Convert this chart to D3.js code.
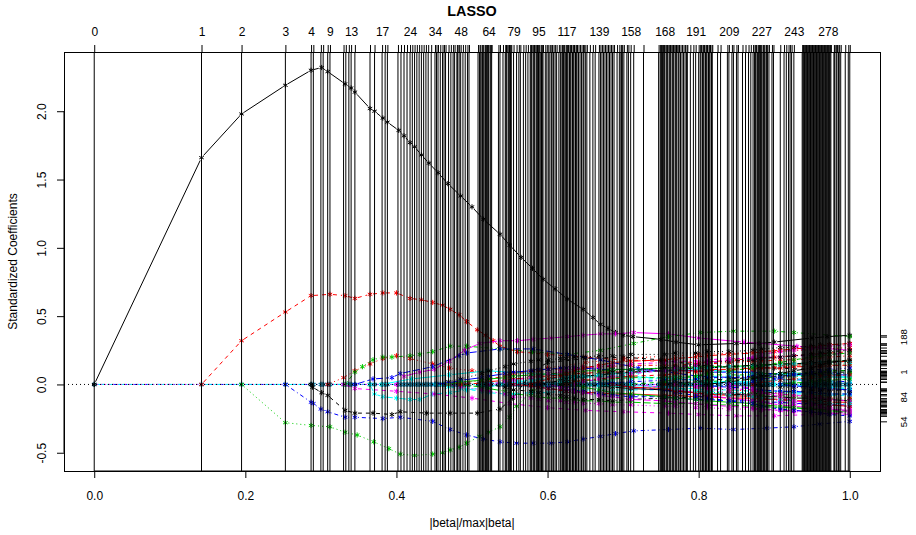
<!DOCTYPE html>
<html>
<head>
<meta charset="utf-8">
<title>LASSO</title>
<script src="https://d3js.org/d3.v7.min.js"></script>
<style>
  body { margin: 0; background: #fff; }
  svg { display: block; font-family: "Liberation Sans", Arial, Helvetica, sans-serif; }
</style>
</head>
<body>
<svg id="chart" width="916" height="535"></svg>
<script>
// |beta|/max|beta| at every LARS step (vertical lines + top axis ticks)
const steps = [
  0, 0.142, 0.195, 0.253, 0.287, 0.290, 0.300, 0.303, 0.309, 0.312,
  0.330, 0.333, 0.337, 0.340, 0.345, 0.365, 0.371, 0.381, 0.385, 0.388,
  0.402, 0.406, 0.410, 0.414, 0.418, 0.421, 0.424, 0.427, 0.430, 0.433,
  0.436, 0.439, 0.442, 0.446, 0.451, 0.453, 0.455, 0.458, 0.461, 0.463,
  0.465, 0.469, 0.472, 0.475, 0.477, 0.480, 0.481, 0.483, 0.485, 0.488,
  0.491, 0.494, 0.496, 0.508, 0.510, 0.511, 0.513, 0.514, 0.515, 0.517,
  0.518, 0.519, 0.520, 0.521, 0.522, 0.524, 0.525, 0.526, 0.535, 0.537,
  0.541, 0.544, 0.545, 0.546, 0.548, 0.549, 0.550, 0.551, 0.552, 0.555,
  0.559, 0.562, 0.564, 0.568, 0.571, 0.574, 0.577, 0.578, 0.579, 0.581,
  0.582, 0.583, 0.585, 0.586, 0.587, 0.588, 0.589, 0.591, 0.592, 0.593,
  0.594, 0.597, 0.599, 0.601, 0.603, 0.605, 0.606, 0.608, 0.610, 0.612,
  0.615, 0.617, 0.619, 0.620, 0.621, 0.622, 0.624, 0.625, 0.626, 0.627,
  0.629, 0.630, 0.631, 0.633, 0.634, 0.635, 0.637, 0.638, 0.639, 0.641,
  0.643, 0.645, 0.647, 0.648, 0.650, 0.652, 0.656, 0.660, 0.663, 0.668,
  0.670, 0.672, 0.674, 0.676, 0.678, 0.680, 0.682, 0.684, 0.686, 0.688,
  0.692, 0.695, 0.697, 0.698, 0.699, 0.701, 0.705, 0.707, 0.710, 0.714,
  0.727, 0.747, 0.749, 0.750, 0.751, 0.752, 0.753, 0.754, 0.755, 0.757,
  0.758, 0.759, 0.761, 0.762, 0.763, 0.765, 0.766, 0.767, 0.769, 0.770,
  0.771, 0.773, 0.774, 0.776, 0.778, 0.780, 0.782, 0.784, 0.785, 0.789,
  0.793, 0.796, 0.800, 0.802, 0.803, 0.805, 0.806, 0.807, 0.809, 0.810,
  0.811, 0.813, 0.814, 0.815, 0.817, 0.818, 0.825, 0.829, 0.838, 0.840,
  0.844, 0.846, 0.850, 0.852, 0.858, 0.862, 0.866, 0.869, 0.872, 0.874,
  0.875, 0.876, 0.878, 0.879, 0.880, 0.881, 0.882, 0.883, 0.885, 0.886,
  0.887, 0.889, 0.890, 0.891, 0.893, 0.897, 0.899, 0.908, 0.913, 0.916,
  0.919, 0.921, 0.923, 0.926, 0.937, 0.938, 0.939, 0.940, 0.941, 0.942,
  0.943, 0.944, 0.945, 0.946, 0.947, 0.948, 0.949, 0.950, 0.951, 0.952,
  0.953, 0.954, 0.955, 0.956, 0.957, 0.958, 0.959, 0.960, 0.961, 0.962,
  0.963, 0.964, 0.965, 0.966, 0.967, 0.968, 0.969, 0.970, 0.971, 0.972,
  0.973, 0.974, 0.975, 0.979, 0.980, 0.982, 0.983, 0.985, 0.986, 0.988,
  0.994, 0.998, 1.000
];

// steps whose number is printed on the top axis
const topLabelSteps = [0, 1, 2, 3, 4, 9, 13, 17, 24, 34, 48, 64, 79, 95, 117, 139, 158, 168, 191, 209, 227, 243, 278];

const xTicks = [0, 0.2, 0.4, 0.6, 0.8, 1.0];
const yTicks = [-0.5, 0, 0.5, 1, 1.5, 2];

// the clearly visible coefficient paths, [|beta|/max|beta|, coefficient]
const mainPaths = [
  [[0,0],[0.142,1.66],[0.195,1.98],[0.253,2.19],[0.287,2.30],[0.301,2.32],[0.309,2.29],[0.332,2.20],[0.340,2.17],[0.345,2.14],[0.365,2.02],[0.371,2.00],[0.382,1.95],[0.388,1.92],[0.403,1.86],[0.410,1.82],[0.418,1.77],[0.424,1.74],[0.433,1.68],[0.443,1.62],[0.455,1.55],[0.468,1.47],[0.485,1.38],[0.50,1.30],[0.515,1.21],[0.537,1.10],[0.55,1.02],[0.565,0.93],[0.58,0.85],[0.594,0.77],[0.61,0.70],[0.626,0.625],[0.647,0.55],[0.66,0.49],[0.67,0.44],[0.68,0.41],[0.69,0.38],[0.70,0.36],[0.713,0.35],[0.75,0.33],[0.77,0.31],[0.80,0.29],[0.85,0.30],[0.88,0.30],[0.90,0.31],[0.95,0.34],[0.97,0.35],[1.0,0.36]],
  [[0.142,0],[0.195,0.32],[0.253,0.53],[0.287,0.65],[0.312,0.66],[0.332,0.65],[0.345,0.63],[0.365,0.66],[0.382,0.67],[0.40,0.67],[0.418,0.63],[0.433,0.62],[0.448,0.60],[0.461,0.58],[0.471,0.55],[0.483,0.51],[0.493,0.46],[0.507,0.40],[0.518,0.36],[0.528,0.32],[0.537,0.28],[0.56,0.24],[0.60,0.22],[0.65,0.20],[0.70,0.18],[0.75,0.17],[0.80,0.16],[0.85,0.18],[0.90,0.20],[0.95,0.22],[1.0,0.24]],
  [[0.195,0],[0.253,-0.28],[0.287,-0.30],[0.312,-0.31],[0.332,-0.35],[0.348,-0.37],[0.37,-0.42],[0.39,-0.47],[0.405,-0.51],[0.424,-0.52],[0.448,-0.51],[0.461,-0.50],[0.471,-0.48],[0.483,-0.46],[0.493,-0.43],[0.51,-0.38],[0.522,-0.35],[0.537,-0.31],[0.55,-0.24],[0.559,-0.16],[0.58,-0.05],[0.62,0.05],[0.68,0.10],[0.75,0.12],[0.85,0.13],[1.0,0.15]],
  [[0.253,0],[0.287,-0.13],[0.290,-0.14],[0.300,-0.18],[0.309,-0.20],[0.332,-0.24],[0.345,-0.24],[0.382,-0.25],[0.405,-0.24],[0.448,-0.27],[0.471,-0.33],[0.493,-0.37],[0.515,-0.40],[0.537,-0.42],[0.559,-0.43],[0.581,-0.43],[0.605,-0.43],[0.626,-0.42],[0.647,-0.40],[0.670,-0.38],[0.69,-0.36],[0.714,-0.34],[0.76,-0.33],[0.802,-0.32],[0.846,-0.33],[0.89,-0.32],[0.926,-0.31],[0.96,-0.29],[1.0,-0.27]],
  [[0.365,0],[0.371,-0.07],[0.382,-0.09],[0.40,-0.10],[0.418,-0.11],[0.431,-0.11],[0.448,-0.07],[0.471,-0.06],[0.493,-0.04],[0.52,-0.02],[0.56,0.02],[0.62,0.05],[0.70,0.06],[0.80,0.03],[0.90,0.0],[1.0,-0.03]],
  [[0.40,0],[0.41,0.06],[0.431,0.09],[0.45,0.11],[0.47,0.17],[0.49,0.25],[0.51,0.30],[0.537,0.32],[0.56,0.32],[0.581,0.33],[0.605,0.34],[0.626,0.35],[0.647,0.36],[0.67,0.37],[0.69,0.37],[0.714,0.38],[0.76,0.37],[0.80,0.34],[0.86,0.31],[0.93,0.28],[1.0,0.25]],
  [[0.287,0],[0.289,-0.02],[0.301,-0.06],[0.309,-0.08],[0.332,-0.19],[0.345,-0.21],[0.369,-0.21],[0.394,-0.22],[0.405,-0.20],[0.44,-0.21],[0.471,-0.21],[0.507,-0.21],[0.537,-0.18],[0.554,-0.10],[0.581,0.10],[0.60,0.16],[0.65,0.19],[0.70,0.20],[0.75,0.18],[0.80,0.14],[0.90,0.12],[1.0,0.10]],
  [[0.309,0],[0.33,0.05],[0.345,0.10],[0.365,0.15],[0.382,0.19],[0.40,0.21],[0.418,0.19],[0.448,0.15],[0.47,0.12],[0.50,0.10],[0.55,0.08],[0.60,0.12],[0.65,0.16],[0.70,0.19],[0.80,0.22],[0.90,0.24],[1.0,0.27]],
  [[0.332,0],[0.345,0.09],[0.355,0.13],[0.369,0.18],[0.382,0.20],[0.394,0.20],[0.418,0.21],[0.431,0.22],[0.448,0.24],[0.471,0.28],[0.493,0.28],[0.537,0.26],[0.58,0.24],[0.626,0.22],[0.67,0.25],[0.714,0.30],[0.76,0.35],[0.802,0.38],[0.846,0.39],[0.90,0.39],[0.926,0.38],[1.0,0.35]],
  [[0.345,0],[0.369,0.04],[0.394,0.05],[0.405,0.08],[0.448,0.13],[0.483,0.21],[0.493,0.23],[0.537,0.26],[0.581,0.26],[0.626,0.22],[0.67,0.18],[0.72,0.12],[0.80,0.06],[0.90,0.04],[1.0,0.02]],
  [[0.38,0],[0.42,0.04],[0.47,0.07],[0.52,0.10],[0.58,0.08],[0.65,0.06],[0.72,0.09],[0.80,0.11],[0.88,0.08],[1.0,0.05]],
  [[0.33,0],[0.345,-0.03],[0.40,-0.05],[0.45,-0.07],[0.50,-0.10],[0.55,-0.14],[0.60,-0.17],[0.65,-0.19],[0.70,-0.20],[0.76,-0.21],[0.80,-0.22],[0.85,-0.23],[0.90,-0.23],[0.95,-0.22],[1.0,-0.20]]
];

// later entering variables, read at these steps: [first grid column, values from there on]
const gridSteps = [34, 41, 48, 56, 64, 71, 79, 87, 95, 103, 111, 117, 125, 132, 139, 148, 158, 168, 178, 191, 200, 209, 218, 227, 237, 243, 256, 268, 280, 292];
const minorPaths = [
  [0, [0, 0.02, 0.04, 0.08, 0.10, 0.13, 0.15, 0.17, 0.18, 0.18, 0.19, 0.19, 0.20, 0.20, 0.21, 0.21, 0.22, 0.22, 0.23, 0.23, 0.24, 0.24, 0.25, 0.26, 0.27, 0.27, 0.28, 0.29, 0.29, 0.30]],
  [1, [0, 0.01, 0.03, 0.04, 0.06, 0.08, 0.09, 0.10, 0.11, 0.11, 0.12, 0.12, 0.13, 0.13, 0.13, 0.14, 0.14, 0.14, 0.15, 0.15, 0.16, 0.17, 0.17, 0.18, 0.18, 0.19, 0.20, 0.20, 0.21]],
  [2, [0, -0.02, -0.03, -0.05, -0.07, -0.08, -0.09, -0.10, -0.10, -0.11, -0.11, -0.12, -0.12, -0.13, -0.13, -0.14, -0.14, -0.14, -0.15, -0.15, -0.16, -0.16, -0.17, -0.17, -0.18, -0.18, -0.19, -0.19]],
  [0, [0, 0.01, 0.03, 0.05, 0.06, 0.08, 0.09, 0.10, 0.11, 0.11, 0.12, 0.12, 0.12, 0.12, 0.11, 0.11, 0.11, 0.10, 0.10, 0.10, 0.09, 0.09, 0.09, 0.08, 0.08, 0.08, 0.08, 0.07, 0.07, 0.07]],
  [0, [0, -0.02, -0.03, -0.05, -0.06, -0.07, -0.07, -0.06, -0.06, -0.06, -0.05, -0.05, -0.05, -0.04, -0.04, -0.04, -0.04, -0.04, -0.05, -0.05, -0.05, -0.06, -0.06, -0.06, -0.07, -0.07, -0.07, -0.08, -0.08, -0.08]],
  [1, [0, -0.02, -0.04, -0.05, -0.07, -0.09, -0.10, -0.11, -0.12, -0.12, -0.13, -0.13, -0.14, -0.14, -0.15, -0.15, -0.16, -0.16, -0.17, -0.17, -0.18, -0.18, -0.19, -0.19, -0.20, -0.20, -0.21, -0.21, -0.21]],
  [4, [0, -0.02, -0.04, -0.05, -0.06, -0.07, -0.08, -0.09, -0.10, -0.11, -0.11, -0.12, -0.11, -0.10, -0.10, -0.09, -0.08, -0.07, -0.07, -0.06, -0.06, -0.05, -0.05, -0.04, -0.04, -0.04]],
  [2, [0, 0.01, 0.02, 0.03, 0.04, 0.05, 0.06, 0.06, 0.07, 0.07, 0.08, 0.08, 0.09, 0.09, 0.09, 0.10, 0.10, 0.10, 0.11, 0.11, 0.12, 0.12, 0.12, 0.13, 0.13, 0.13, 0.14, 0.14]],
  [1, [0, 0.02, 0.03, 0.04, 0.05, 0.06, 0.07, 0.07, 0.08, 0.08, 0.09, 0.09, 0.10, 0.10, 0.11, 0.11, 0.12, 0.12, 0.13, 0.13, 0.13, 0.14, 0.14, 0.15, 0.15, 0.16, 0.16, 0.17, 0.17]],
  [6, [0, -0.01, -0.02, -0.03, -0.04, -0.05, -0.05, -0.06, -0.07, -0.08, -0.09, -0.09, -0.10, -0.11, -0.11, -0.12, -0.12, -0.13, -0.13, -0.14, -0.14, -0.14, -0.15, -0.15]],
  [3, [0, 0.01, 0.02, 0.03, 0.03, 0.04, 0.04, 0.05, 0.05, 0.05, 0.06, 0.06, 0.06, 0.06, 0.05, 0.05, 0.05, 0.04, 0.04, 0.04, 0.03, 0.03, 0.03, 0.02, 0.02, 0.02, 0.02]],
  [4, [0, 0.02, 0.03, 0.05, 0.06, 0.08, 0.09, 0.10, 0.11, 0.12, 0.13, 0.14, 0.15, 0.16, 0.17, 0.17, 0.18, 0.19, 0.19, 0.20, 0.20, 0.21, 0.21, 0.22, 0.22, 0.23]],
  [8, [0, 0.01, 0.03, 0.04, 0.05, 0.06, 0.07, 0.08, 0.09, 0.10, 0.11, 0.12, 0.12, 0.13, 0.14, 0.14, 0.15, 0.15, 0.16, 0.16, 0.17, 0.17]],
  [6, [0, -0.01, -0.02, -0.03, -0.04, -0.05, -0.05, -0.06, -0.06, -0.07, -0.07, -0.08, -0.08, -0.09, -0.09, -0.10, -0.10, -0.11, -0.11, -0.12, -0.12, -0.12, -0.13, -0.13]],
  [10, [0, 0.01, 0.02, 0.03, 0.03, 0.04, 0.05, 0.05, 0.06, 0.06, 0.07, 0.07, 0.07, 0.08, 0.08, 0.08, 0.09, 0.09, 0.10, 0.10]],
  [8, [0, -0.01, -0.02, -0.03, -0.04, -0.05, -0.06, -0.07, -0.08, -0.09, -0.10, -0.10, -0.11, -0.12, -0.12, -0.13, -0.13, -0.14, -0.14, -0.15, -0.15, -0.16]],
  [11, [0, 0.01, 0.02, 0.03, 0.03, 0.04, 0.04, 0.05, 0.05, 0.06, 0.06, 0.07, 0.07, 0.07, 0.08, 0.08, 0.08, 0.09, 0.09]],
  [9, [0, -0.02, -0.03, -0.05, -0.06, -0.08, -0.09, -0.11, -0.12, -0.13, -0.14, -0.15, -0.16, -0.17, -0.18, -0.19, -0.19, -0.20, -0.21, -0.21, -0.22]],
  [13, [0, -0.01, -0.02, -0.03, -0.04, -0.05, -0.06, -0.07, -0.07, -0.08, -0.09, -0.09, -0.10, -0.10, -0.11, -0.11, -0.12]],
  [11, [0, 0.02, 0.03, 0.04, 0.05, 0.06, 0.07, 0.08, 0.09, 0.10, 0.11, 0.11, 0.12, 0.13, 0.14, 0.15, 0.15, 0.16, 0.17]],
  [14, [0, -0.01, -0.02, -0.03, -0.04, -0.05, -0.06, -0.06, -0.07, -0.08, -0.08, -0.09, -0.09, -0.10, -0.10, -0.11]],
  [14, [0, 0.01, 0.02, 0.03, 0.03, 0.04, 0.05, 0.05, 0.06, 0.06, 0.06, 0.07, 0.07, 0.07, 0.08, 0.08]],
  [13, [0, -0.01, -0.01, -0.02, -0.02, -0.03, -0.03, -0.04, -0.04, -0.05, -0.05, -0.05, -0.06, -0.06, -0.06, -0.07, -0.07]],
  [16, [0, -0.02, -0.04, -0.06, -0.08, -0.10, -0.12, -0.13, -0.15, -0.16, -0.17, -0.18, -0.18, -0.19]],
  [17, [0, 0.01, 0.02, 0.03, 0.04, 0.05, 0.06, 0.06, 0.07, 0.08, 0.08, 0.09, 0.09]],
  [17, [0, -0.01, -0.02, -0.03, -0.04, -0.05, -0.06, -0.07, -0.08, -0.08, -0.09, -0.10, -0.10]],
  [18, [0, 0.01, 0.02, 0.03, 0.04, 0.05, 0.05, 0.06, 0.06, 0.07, 0.07, 0.08]],
  [19, [0, -0.01, -0.02, -0.03, -0.04, -0.05, -0.05, -0.06, -0.06, -0.07, -0.07]],
  [19, [0, 0.01, 0.02, 0.02, 0.03, 0.03, 0.04, 0.04, 0.05, 0.05, 0.06]],
  [19, [0, -0.02, -0.03, -0.04, -0.06, -0.07, -0.08, -0.09, -0.10, -0.11, -0.12]],
  [22, [0, -0.01, -0.02, -0.02, -0.03, -0.04, -0.04, -0.05]],
  [22, [0, 0.02, 0.03, 0.04, 0.05, 0.06, 0.06, 0.07]],
  [24, [0, 0.01, 0.02, 0.03, 0.03, 0.04]],
  [24, [0, -0.01, -0.02, -0.03, -0.03, -0.04]],
  [26, [0, -0.01, -0.02, -0.03]],
  [18, [0, -0.02, -0.04, -0.06, -0.08, -0.10, -0.12, -0.14, -0.15, -0.16, -0.17, -0.18]],
  [10, [0, 0.02, 0.04, 0.06, 0.07, 0.09, 0.10, 0.12, 0.13, 0.14, 0.16, 0.17, 0.18, 0.19, 0.20, 0.21, 0.22, 0.23, 0.24, 0.25]],
  [7, [0, 0.02, 0.04, 0.06, 0.08, 0.10, 0.12, 0.14, 0.16, 0.17, 0.18, 0.19, 0.20, 0.21, 0.22, 0.23, 0.24, 0.25, 0.26, 0.27, 0.28, 0.29, 0.30]],
  [12, [0, -0.02, -0.04, -0.06, -0.07, -0.09, -0.10, -0.11, -0.12, -0.13, -0.14, -0.15, -0.16, -0.17, -0.18, -0.19, -0.20, -0.20]],
  [15, [0, -0.02, -0.04, -0.06, -0.08, -0.10, -0.12, -0.14, -0.16, -0.18, -0.19, -0.20, -0.21, -0.22, -0.23]],
  [9, [0, 0.02, 0.03, 0.05, 0.06, 0.07, 0.08, 0.09, 0.10, 0.11, 0.12, 0.12, 0.13, 0.13, 0.14, 0.14, 0.15, 0.15, 0.16, 0.16, 0.16]],
  [12, [0, 0.02, 0.04, 0.06, 0.08, 0.10, 0.12, 0.14, 0.16, 0.18, 0.20, 0.22, 0.24, 0.25, 0.26, 0.27, 0.28, 0.29]],
  [20, [0, 0.02, 0.04, 0.06, 0.08, 0.10, 0.12, 0.14, 0.16, 0.18]],
  [15, [0, -0.02, -0.03, -0.05, -0.06, -0.07, -0.08, -0.09, -0.10, -0.11, -0.12, -0.13, -0.14, -0.15, -0.16]],
  [16, [0, 0.02, 0.04, 0.06, 0.08, 0.10, 0.12, 0.14, 0.16, 0.18, 0.20, 0.21, 0.22, 0.23]],
  [21, [0, 0.02, 0.04, 0.05, 0.07, 0.09, 0.10, 0.11, 0.12]],
  [16, [0, -0.02, -0.03, -0.05, -0.06, -0.08, -0.09, -0.10, -0.11, -0.12, -0.13, -0.13, -0.14, -0.14]],
  [21, [0, -0.03, -0.06, -0.09, -0.12, -0.14, -0.16, -0.18, -0.20]]
];

// variable names printed on the right axis
const rightLabelText = ["188", "1", "84", "54"];
const rightLabelValue = [0.35, 0.095, -0.09, -0.27];

const palette = ["#000000", "#FF0000", "#00CD00", "#0000FF", "#00FFFF", "#FF00FF"];
const ltys = [null, "4,4", "1,3", "1,3,4,3", "7,3"];

const W = 916, H = 535;
const plot = { left: 64, right: 880, top: 52, bottom: 471 };

// R style 4% range expansion
function expand([a, b]) { const d = (b - a) * 0.04; return [a - d, b + d]; }

const minorXY = minorPaths.map(([start, vals]) =>
  vals.map((v, j) => [steps[gridSteps[start + j]], v]));
const paths = mainPaths.concat(minorXY);

const x = d3.scaleLinear().domain(expand(d3.extent(steps))).range([plot.left, plot.right]);
const y = d3.scaleLinear()
  .domain(expand(d3.extent(paths.flat().map(d => d[1]))))
  .range([plot.bottom, plot.top]);

const svg = d3.select("#chart");
svg.append("rect").attr("width", W).attr("height", H).attr("fill", "#fff");

const star = "M0,-2.6V2.6M-2.25,-1.3L2.25,1.3M-2.25,1.3L2.25,-1.3";

// type = "b": segments leave a small gap round each point
function gapSegments(pts, gap) {
  const segs = [];
  for (let k = 1; k < pts.length; k++) {
    const x0 = x(pts[k - 1][0]), y0 = y(pts[k - 1][1]);
    const x1 = x(pts[k][0]), y1 = y(pts[k][1]);
    const len = Math.hypot(x1 - x0, y1 - y0);
    if (len <= 2 * gap) continue;
    const ux = (x1 - x0) / len, uy = (y1 - y0) / len;
    segs.push([x0 + ux * gap, y0 + uy * gap, x1 - ux * gap, y1 - uy * gap]);
  }
  return segs;
}

const curves = svg.append("g");

// inactive variables sit on zero at every step
const zeroPts = steps.map(s => [s, 0]);
[["#0000FF", "1,3,4,3"], ["#00FFFF", "7,3"], ["#FF00FF", "1,3"]].forEach(([c, dsh]) => {
  curves.append("g").selectAll("line")
    .data(gapSegments(zeroPts, 3))
    .join("line")
    .attr("x1", d => d[0]).attr("y1", d => d[1])
    .attr("x2", d => d[2]).attr("y2", d => d[3])
    .attr("stroke", c).attr("stroke-width", 1).attr("stroke-dasharray", dsh);
});
curves.append("g").selectAll("path")
  .data(zeroPts)
  .join("path")
  .attr("d", star)
  .attr("transform", d => `translate(${x(d[0])},${y(d[1])})`)
  .attr("fill", "none").attr("stroke", "#1c7fa6").attr("stroke-width", 1.6);

paths.forEach((pts, i) => {
  const col = palette[i % 6];
  const dash = ltys[i % 5];
  const g = curves.append("g");
  g.selectAll("line")
    .data(gapSegments(pts, 3))
    .join("line")
    .attr("x1", d => d[0]).attr("y1", d => d[1])
    .attr("x2", d => d[2]).attr("y2", d => d[3])
    .attr("stroke", col).attr("stroke-width", 1)
    .attr("stroke-dasharray", dash);
  g.selectAll("path")
    .data(pts)
    .join("path")
    .attr("d", star)
    .attr("transform", d => `translate(${x(d[0])},${y(d[1])})`)
    .attr("fill", "none").attr("stroke", col).attr("stroke-width", 1);
});

// abline(h = 0, lty = 3)
svg.append("line")
  .attr("x1", plot.left).attr("x2", plot.right)
  .attr("y1", y(0)).attr("y2", y(0))
  .attr("stroke", "#000").attr("stroke-dasharray", "1,3");

function styleAxis(g) {
  g.attr("font-family", null).attr("font-size", 12);
  g.selectAll(".tick line").attr("stroke", "#000");
  g.selectAll("text").attr("fill", "#000");
  g.select(".domain").remove();
}

// bottom axis
const fmt = d => d3.format(".1f")(d).replace("\u2212", "-");
const gx = svg.append("g")
  .attr("transform", `translate(0,${plot.bottom})`)
  .call(d3.axisBottom(x).tickValues(xTicks).tickSize(7).tickPadding(13).tickFormat(fmt))
  .call(styleAxis);
gx.append("line").attr("x1", x(xTicks[0])).attr("x2", x(xTicks[xTicks.length - 1]))
  .attr("stroke", "#000");

// left axis, labels parallel to the axis
const gy = svg.append("g")
  .attr("transform", `translate(${plot.left},0)`)
  .call(d3.axisLeft(y).tickValues(yTicks).tickSize(7).tickFormat(fmt))
  .call(styleAxis);
gy.selectAll(".tick text")
  .attr("transform", "rotate(-90)")
  .attr("x", 0).attr("y", -18).attr("dy", null)
  .attr("text-anchor", "middle");
gy.append("line").attr("y1", y(yTicks[0])).attr("y2", y(yTicks[yTicks.length - 1]))
  .attr("stroke", "#000");

// top axis: one tick per step, number shown for a subset
const labelled = new Set(topLabelSteps.map(i => steps[i]));
const stepIndex = new Map(steps.map((s, i) => [s, i]));
svg.append("g")
  .attr("transform", `translate(0,${plot.top})`)
  .call(d3.axisTop(x).tickValues(steps).tickSize(7).tickPadding(9)
    .tickFormat(s => labelled.has(s) ? String(stepIndex.get(s)) : ""))
  .call(styleAxis);

// right axis: ticks at the final coefficients
const finals = paths.filter(p => p[p.length - 1][0] === 1).map(p => p[p.length - 1][1]);
svg.append("g")
  .attr("transform", `translate(${plot.right},0)`)
  .call(d3.axisRight(y).tickValues(finals).tickSize(7).tickFormat(""))
  .call(styleAxis);
const gr2 = svg.append("g")
  .attr("transform", `translate(${plot.right},0)`)
  .call(d3.axisRight(y).tickValues(rightLabelValue).tickSize(0)
    .tickFormat((d, i) => rightLabelText[i]))
  .call(styleAxis);
gr2.attr("font-size", 9.6);
gr2.selectAll(".tick line").remove();
gr2.selectAll(".tick text")
  .attr("transform", "rotate(-90)")
  .attr("x", 0).attr("y", 27).attr("dy", null)
  .attr("text-anchor", "middle");

// abline(v = steps)
svg.append("g").selectAll("line")
  .data(steps)
  .join("line")
  .attr("x1", d => x(d)).attr("x2", d => x(d))
  .attr("y1", plot.top).attr("y2", plot.bottom)
  .attr("stroke", "#000").attr("stroke-width", 1);

// box
svg.append("rect")
  .attr("x", plot.left).attr("y", plot.top)
  .attr("width", plot.right - plot.left).attr("height", plot.bottom - plot.top)
  .attr("fill", "none").attr("stroke", "#000").attr("shape-rendering", "crispEdges");

// titles
svg.append("text")
  .attr("x", (plot.left + plot.right) / 2).attr("y", 16)
  .attr("text-anchor", "middle").attr("font-size", 14.4).attr("font-weight", "bold")
  .text("LASSO");
svg.append("text")
  .attr("x", (plot.left + plot.right) / 2).attr("y", 527)
  .attr("text-anchor", "middle").attr("font-size", 12)
  .text("|beta|/max|beta|");
svg.append("text")
  .attr("transform", `translate(17,${(plot.top + plot.bottom) / 2}) rotate(-90)`)
  .attr("text-anchor", "middle").attr("font-size", 12)
  .text("Standardized Coefficients");
</script>
</body>
</html>
